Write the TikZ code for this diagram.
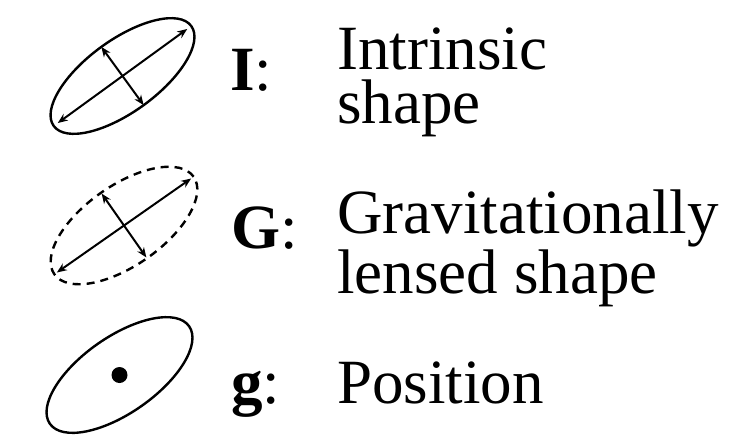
\documentclass[tikz,border=0pt]{standalone}
\usepackage{fontspec}
\setmainfont{Liberation Serif}
\usetikzlibrary{arrows.meta, positioning, calc}

\begin{document}
\begin{tikzpicture}[x=0.5pt, y=0.5pt,
        outline/.style={line width=1.2pt},
        axis/.style={{Stealth[length=5pt,width=4pt]}-{Stealth[length=5pt,width=4pt]}, line width=1pt},
        lbl/.style={anchor=base west, inner sep=0pt, font=\fontsize{31.5}{31.5}\selectfont},
        txt/.style={anchor=base west, inner sep=0pt, align=left}]
        \useasboundingbox (0,0) rectangle (743,-446);

        % intrinsic shape
        \coordinate (intr) at (122.5,-76);
        \draw[outline, rotate around={36:(intr)}] (intr) ellipse (85 and 36);
        \path (intr) ++(36:80) coordinate (intr-a) (intr) ++(216:80) coordinate (intr-b)
              (intr) ++(126:36) coordinate (intr-c) (intr) ++(306:36) coordinate (intr-d);
        \draw[axis] (intr-b) -- (intr-a);
        \draw[axis] (intr-c) -- (intr-d);

        % lensed shape
        \coordinate (lens) at (124,-225.5);
        \draw[outline, dash pattern=on 4pt off 3pt, rotate around={35:(lens)}] (lens) ellipse (85 and 40);
        \path (lens) ++(35:82) coordinate (lens-a) (lens) ++(215:82) coordinate (lens-b)
              (lens) ++(125:39) coordinate (lens-c) (lens) ++(305:39) coordinate (lens-d);
        \draw[axis] (lens-b) -- (lens-a);
        \draw[axis] (lens-c) -- (lens-d);

        % position
        \coordinate (pos) at (119.5,-375);
        \draw[outline, rotate around={35:(pos)}] (pos) ellipse (85 and 38);
        \fill (pos) circle (8);

        \node[lbl] (lbl-i) at (230,-90) {\textbf{I}:};
        \node[txt, font=\fontsize{31.5}{27}\selectfont] (intr-txt) at (337,-123) {Intrinsic\\shape};

        \node[lbl] (lbl-g) at (231,-248) {\textbf{G}:};
        \node[txt, font=\fontsize{31.5}{25}\selectfont] (lens-txt) at (337,-293) {Gravitationally\\lensed shape};

        \node[lbl] (lbl-p) at (231,-403) {\textbf{g}:};
        \node[txt, font=\fontsize{31.5}{31.5}\selectfont] (pos-txt) at (337,-403) {Position};
    \end{tikzpicture}
\end{document}
